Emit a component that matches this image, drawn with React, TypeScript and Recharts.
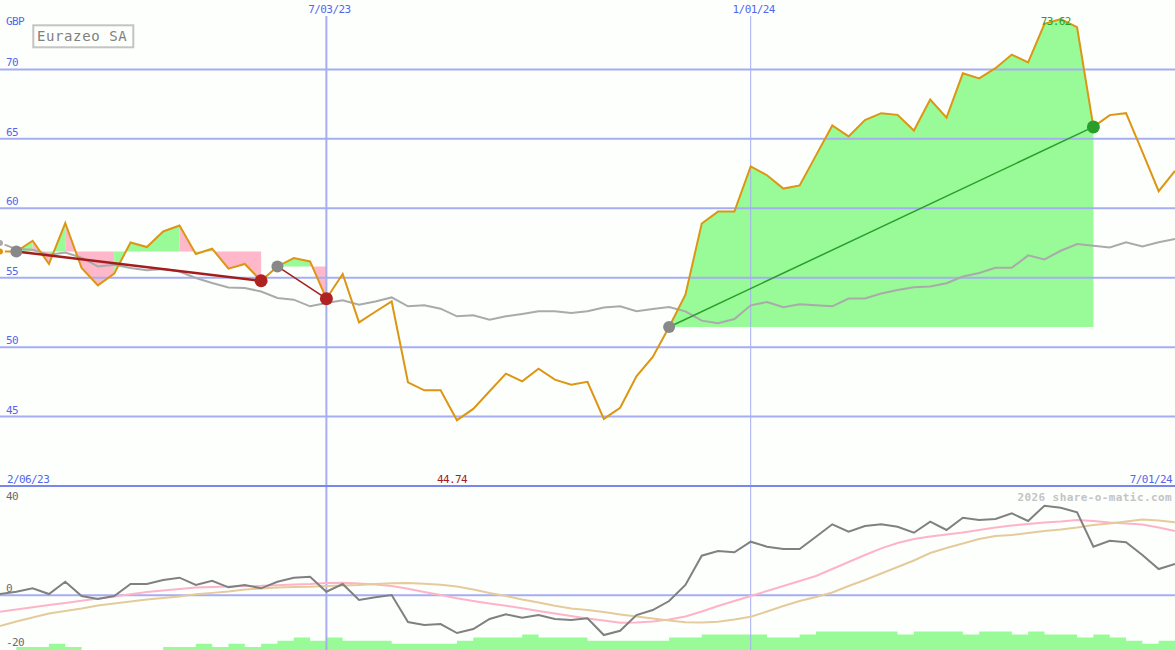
import { Area, ComposedChart, Line, ReferenceDot, ReferenceLine, XAxis, YAxis } from "recharts";

const W = 1175;
const MAIN_H = 486;
const LOWER_H = 164;

const BG = "#fdfffd";
const GRID = "#a6aef2";
const SEPARATOR = "#7886ee";
const AXIS_TEXT = "#5566ee";
const PRICE = "#dc9614";
const AVG = "#aaaaaa";
const GAIN = "#98fb98";
const LOSS = "#ffb7ca";
const MONO = "'DejaVu Sans Mono', monospace";

// week index: 0 = mid Feb 2023 ... 72 = 1 Jul 2024
const weeks = Array.from({ length: 73 }, (_, i) => i);

const price = [
  56.89, 56.89, 57.66, 55.99, 58.94, 55.7, 54.45, 55.29, 57.54, 57.21,
  58.33, 58.76, 56.71, 57.09, 55.65, 55.99, 54.78, 55.81, 56.42, 56.17,
  53.49, 55.27, 51.78, 52.55, 53.29, 47.47, 46.89, 46.89, 44.74, 45.55,
  46.82, 48.09, 47.54, 48.45, 47.66, 47.3, 47.5, 44.83, 45.63, 47.9,
  49.3, 51.45, 53.78, 58.9, 59.76, 59.76, 63.02, 62.38, 61.42, 61.65,
  63.81, 65.96, 65.18, 66.36, 66.85, 66.73, 65.6, 67.83, 66.53, 69.72,
  69.35, 70.09, 71.07, 70.51, 73.28, 73.62, 73.04, 65.86, 66.71, 66.85,
  64.06, 61.23, 62.7,
];

const movingAvg = [
  57.5, 57.06, 57.01, 56.65, 56.82, 56.44, 55.81, 55.94, 55.7, 55.53,
  55.63, 55.45, 54.98, 54.62, 54.3, 54.26, 54.01, 53.54, 53.42, 52.94,
  53.18, 53.37, 53.06, 53.29, 53.58, 52.94, 53.01, 52.77, 52.22, 52.29,
  51.98, 52.22, 52.39, 52.58, 52.58, 52.46, 52.58, 52.86, 52.94, 52.58,
  52.75, 52.89, 52.58, 51.91, 51.73, 52.02, 53.01, 53.25, 52.88, 53.08,
  53.01, 52.94, 53.5, 53.5, 53.86, 54.11, 54.31, 54.36, 54.6, 55.09,
  55.34, 55.71, 55.71, 56.61, 56.32, 56.94, 57.42, 57.3, 57.18, 57.55,
  57.25, 57.55, 57.79,
];

const momentum = [
  0.48, 1.32, 2.57, 0.48, 4.98, -0.25, -1.35, -0.25, 4.14, 4.14,
  5.61, 6.45, 3.78, 5.35, 2.93, 3.78, 2.57, 4.98, 6.45, 6.81,
  1.32, 4.14, -1.71, -0.7, 0.12, -9.76, -10.86, -10.49, -13.79, -12.32,
  -8.66, -6.94, -8.19, -7.2, -8.66, -9.03, -8.41, -14.52, -12.95, -7.2,
  -5.37, -2.08, 3.78, 14.5, 16.22, 15.74, 19.62, 17.79, 16.95, 16.95,
  21.45, 25.99, 23.28, 25.36, 25.99, 25.11, 22.91, 26.94, 23.9, 28.4,
  27.56, 27.93, 30.01, 27.19, 32.79, 32.06, 30.38, 17.79, 19.99, 19.4,
  14.75, 9.63, 11.46,
];

const momentumFast = [
  -5.99, -5.19, -4.38, -3.54, -2.81, -2.0, -1.16, -0.43, 0.37, 1.22,
  1.76, 2.31, 2.86, 3.05, 3.23, 3.41, 3.48, 3.7, 3.96, 4.14,
  4.51, 4.62, 4.33, 3.96, 3.41, 2.39, 1.22, 0.12, -1.09, -2.08,
  -2.99, -3.8, -4.75, -5.74, -6.65, -7.57, -8.48, -9.22, -10.02, -9.94,
  -9.58, -8.85, -7.75, -5.92, -3.91, -2.08, -0.25, 1.58, 3.41, 5.24,
  7.07, 9.63, 12.19, 14.75, 17.2, 19.14, 20.61, 21.52, 22.25, 22.99,
  23.9, 24.82, 25.55, 26.1, 26.64, 27.01, 27.56, 27.19, 26.64, 26.28,
  25.91, 24.82, 23.53,
];

const momentumSlow = [
  -11.22, -9.58, -8.11, -6.65, -5.74, -4.82, -3.72, -2.99, -2.26, -1.53,
  -0.98, -0.43, 0.4, 0.9, 1.4, 2.13, 2.5, 2.86, 3.05, 3.16,
  3.41, 3.59, 3.78, 4.14, 4.4, 4.51, 4.25, 3.85, 3.23, 2.13,
  0.85, -0.25, -1.53, -2.63, -3.8, -4.82, -5.37, -6.1, -7.02, -7.75,
  -8.48, -9.21, -9.87, -9.94, -9.65, -8.85, -7.82, -5.92, -3.91, -2.08,
  -0.61, 1.03, 3.41, 5.61, 7.98, 10.36, 12.74, 15.49, 17.31, 18.96,
  20.61, 21.71, 22.07, 22.8, 23.53, 24.08, 24.82, 25.73, 26.28, 27.01,
  27.74, 27.38, 26.72,
];

const volume = [
  0, 1, 1, 2, 1, 0, 0, 0, 0, 0,
  1, 1, 2, 1, 2, 1, 2, 3, 4, 3,
  4, 3, 3, 3, 2, 2, 2, 2, 3, 4,
  4, 4, 5, 4, 4, 4, 3, 3, 3, 3,
  3, 4, 4, 5, 5, 5, 5, 4, 4, 5,
  6, 6, 6, 6, 6, 5, 6, 6, 6, 5,
  6, 6, 5, 6, 5, 5, 4, 5, 4, 3,
  2, 3, 3,
];

const priceTicks = [45, 50, 55, 60, 65, 70];
const oscTicks = [40, 0, -20];
const dateLines = [
  { week: 20, label: "7/03/23" },
  { week: 46, label: "1/01/24" },
];
const dateLineWidths = [2, 1];
const rangeStart = "2/06/23";
const rangeEnd = "7/01/24";
const trades = [
  { entry: 1, exit: 16 },
  { entry: 17, exit: 20 },
  { entry: 41, exit: 67 },
];
const tradeLineWidths = [2.5, 1.5, 1.5];
const companyName = "Eurazeo SA";
const currency = "GBP";
const copyright = "2026 share-o-matic.com";

const mainData = weeks.map((i) => ({ i, price: price[i], ma: movingAvg[i] }));
const lowerData = weeks.map((i) => ({
  i,
  mom: momentum[i],
  fast: momentumFast[i],
  slow: momentumSlow[i],
  vol: volume[i],
}));

const maxIdx = price.indexOf(Math.max(...price));
const minIdx = price.indexOf(Math.min(...price));

// gain / loss shading between price and entry level, one colour per weekly segment
type Run = { from: number; to: number; base: number; up: boolean };
const fillRuns: Run[] = [];
for (const t of trades) {
  const base = price[t.entry];
  for (let i = t.entry; i < t.exit; i++) {
    const up = price[i + 1] >= base;
    const last = fillRuns[fillRuns.length - 1];
    if (last && last.to === i && last.up === up && last.base === base) last.to = i + 1;
    else fillRuns.push({ from: i, to: i + 1, base, up });
  }
}

const txt = { fontFamily: MONO, fontSize: 11, letterSpacing: -0.6 } as const;

function leftLabel(text: string, dy: number, color: string) {
  return (props: any) => {
    const vb = props.viewBox;
    return (
      <text x={vb.x + 6} y={vb.y + dy} fill={color} {...txt}>
        {text}
      </text>
    );
  };
}

function topDateLabel(text: string) {
  return (props: any) => {
    const { x } = props.viewBox;
    return (
      <g>
        <rect x={x - 32} y={0} width={64} height={16} fill={BG} />
        <text x={x + 3} y={13} textAnchor="middle" fill={AXIS_TEXT} {...txt}>
          {text}
        </text>
      </g>
    );
  };
}

function separatorLabel(props: any) {
  const vb = props.viewBox;
  return (
    <g>
      <text x={vb.x + 7} y={vb.y - 3} fill={AXIS_TEXT} {...txt}>
        {rangeStart}
      </text>
      <text x={vb.x + vb.width - 3} y={vb.y - 3} textAnchor="end" fill={AXIS_TEXT} {...txt}>
        {rangeEnd}
      </text>
    </g>
  );
}

function extremeLabel(text: string, dy: number, color: string) {
  return (props: any) => {
    const vb = props.viewBox;
    return (
      <text x={vb.x + vb.width / 2 - 5} y={vb.y + vb.height / 2 + dy} textAnchor="middle" fill={color} {...txt}>
        {text}
      </text>
    );
  };
}

const tradeWon = (t: { entry: number; exit: number }) => price[t.exit] >= price[t.entry];

export default function App() {
  return (
    <div style={{ position: "absolute", left: 0, top: 0, width: W, height: 650, background: BG, overflow: "hidden" }}>
      <div style={{ position: "absolute", left: 0, top: MAIN_H }}>
        <ComposedChart width={W} height={LOWER_H} data={lowerData} margin={{ top: 0, right: 0, bottom: 0, left: 0 }}>
          <XAxis dataKey="i" type="number" domain={[0, 72]} hide />
          <YAxis yAxisId="osc" domain={[-20, 40]} hide />
          <YAxis yAxisId="vol" domain={[0, 53]} hide />
          {dateLines.map((d, k) => (
            <ReferenceLine key={d.label} yAxisId="osc" x={d.week} stroke={GRID} strokeWidth={dateLineWidths[k]} />
          ))}
          {oscTicks.map((v) => (
            <ReferenceLine
              key={v}
              yAxisId="osc"
              y={v}
              stroke={v === 0 ? GRID : "none"}
              strokeWidth={2}
              label={leftLabel(String(v), v === 40 ? 14 : v === 0 ? -3 : -4, "#6a6a6a")}
            />
          ))}
          <Area
            yAxisId="vol"
            dataKey="vol"
            type="stepAfter"
            stroke="none"
            fill={GAIN}
            fillOpacity={1}
            baseValue={0}
            isAnimationActive={false}
            dot={false}
            activeDot={false}
          />
          <Line yAxisId="osc" dataKey="fast" stroke="#ffb3c8" strokeWidth={2} dot={false} isAnimationActive={false} />
          <Line yAxisId="osc" dataKey="slow" stroke="#e5cb9b" strokeWidth={2} dot={false} isAnimationActive={false} />
          <Line yAxisId="osc" dataKey="mom" stroke="#808080" strokeWidth={2} dot={false} isAnimationActive={false} />
        </ComposedChart>
      </div>

      <div style={{ position: "absolute", left: 0, top: 0 }}>
        <ComposedChart width={W} height={MAIN_H + 2} data={mainData} margin={{ top: 0, right: 0, bottom: 2, left: 0 }}>
          <XAxis dataKey="i" type="number" domain={[0, 72]} hide />
          <YAxis domain={[40, 75]} hide />
          {priceTicks.map((v) => (
            <ReferenceLine key={v} y={v} stroke={GRID} strokeWidth={2} label={leftLabel(String(v), -3, AXIS_TEXT)} />
          ))}
          {dateLines.map((d, k) => (
            <ReferenceLine
              key={d.label}
              x={d.week}
              stroke={GRID}
              strokeWidth={dateLineWidths[k]}
              label={topDateLabel(d.label)}
            />
          ))}
          <ReferenceLine y={40} stroke={SEPARATOR} strokeWidth={2} label={separatorLabel} />

          {fillRuns.map((r, k) => (
            <Area
              key={`fill-${k}`}
              dataKey={(d: any) => (d.i >= r.from && d.i <= r.to ? [r.base, d.price] : null)}
              type="linear"
              stroke="none"
              fill={r.up ? GAIN : LOSS}
              fillOpacity={1}
              isAnimationActive={false}
              dot={false}
              activeDot={false}
            />
          ))}

          <Line dataKey="ma" stroke={AVG} strokeWidth={2} dot={false} isAnimationActive={false} />

          {trades.map((t, k) => (
            <Line
              key={`entry-${k}`}
              dataKey={(d: any) => (d.i === t.entry ? d.price : null)}
              stroke="none"
              dot={{ r: 6, fill: "#888888", stroke: "none" }}
              activeDot={false}
              isAnimationActive={false}
            />
          ))}
          {trades.map((t, k) => (
            <Line
              key={`exit-${k}`}
              dataKey={(d: any) => (d.i === t.exit ? d.price : null)}
              stroke="none"
              dot={{ r: 6.5, fill: tradeWon(t) ? "#2a9e2a" : "#b02222", stroke: "none" }}
              activeDot={false}
              isAnimationActive={false}
            />
          ))}

          <Line dataKey="price" stroke={PRICE} strokeWidth={2} dot={false} isAnimationActive={false} />

          {trades.map((t, k) => (
            <Line
              key={`trade-${k}`}
              dataKey={(d: any) => (d.i === t.entry || d.i === t.exit ? d.price : null)}
              connectNulls
              stroke={tradeWon(t) ? "#2a9e2a" : "#a31d1d"}
              strokeWidth={tradeLineWidths[k]}
              dot={false}
              activeDot={false}
              isAnimationActive={false}
            />
          ))}

          <ReferenceDot
            x={maxIdx}
            y={price[maxIdx]}
            r={1}
            fill="none"
            stroke="none"
            label={extremeLabel(price[maxIdx].toFixed(2), 6, "#2a9e2a")}
          />
          <ReferenceDot
            x={minIdx}
            y={40}
            r={1}
            fill="none"
            stroke="none"
            label={extremeLabel(price[minIdx].toFixed(2), -3, "#a31d1d")}
          />
        </ComposedChart>
      </div>

      <svg width={W} height={650} style={{ position: "absolute", left: 0, top: 0, pointerEvents: "none" }}>
        <text x={6} y={25} fill={AXIS_TEXT} {...txt}>
          {currency}
        </text>
        <rect x={33.3} y={25.3} width={100} height={22} fill={BG} stroke="#c4c4c4" strokeWidth={2} />
        <text x={37} y={41} fill="#808080" fontFamily={MONO} fontSize={14} letterSpacing={0.6}>
          {companyName}
        </text>
        <text
          x={1172}
          y={501}
          textAnchor="end"
          fill="#c4c4c4"
          fontFamily={MONO}
          fontSize={11}
          fontWeight="bold"
          letterSpacing={0.4}
        >
          {copyright}
        </text>
      </svg>
    </div>
  );
}
